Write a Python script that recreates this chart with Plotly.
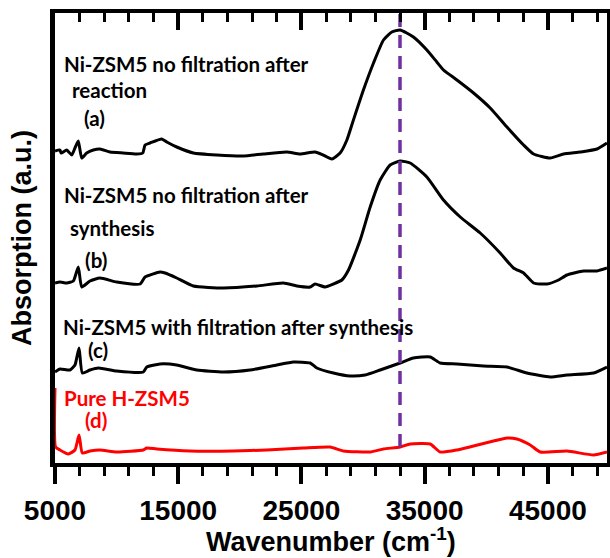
import plotly.graph_objects as go

# Wavenumber (cm-1) and absorption (a.u., stacked offsets)
wn_a = [5000, 5400, 5500, 5950, 6360, 6620, 6890, 7170, 7570, 8110, 8650, 9470, 10520, 11630,
        12120, 12310, 12710, 13660, 14070, 14880, 16230, 18130, 20270, 21890, 23810, 24890,
        26110, 26760, 27470, 28140, 28690, 29220, 30030, 30850, 31660, 32340, 33010, 34090,
        35180, 35990, 36530, 37620, 38970, 40320, 41680, 43030, 43840, 45190, 46270, 47630,
        48990, 49800]
abs_a = [3.12, 3.13, 3.10, 3.13, 3.08, 3.15, 3.22, 3.05, 3.10, 3.13, 3.14, 3.11, 3.10, 3.09,
         3.10, 3.18, 3.20, 3.24, 3.21, 3.16, 3.10, 3.08, 3.07, 3.09, 3.11, 3.09,
         3.11, 3.08, 3.04, 3.10, 3.23, 3.43, 3.73, 4.00, 4.23, 4.31, 4.33, 4.26,
         4.13, 4.01, 3.93, 3.83, 3.70, 3.55, 3.36, 3.18, 3.09, 3.05, 3.09, 3.11,
         3.14, 3.20]

wn_b = [5000, 5400, 5950, 6490, 6890, 7170, 7840, 8650, 10010, 11900, 12310, 13530, 13930,
        14880, 16230, 18670, 21380, 23540, 24630, 25710, 26110, 26920, 27600, 28280, 28820,
        29770, 30580, 31390, 32200, 33010, 33830, 35180, 36530, 37890, 39510, 41130, 42210,
        43030, 43840, 44930, 45870, 46550, 47900, 48990, 49800]
abs_b = [1.80, 1.81, 1.80, 1.82, 1.96, 1.76, 1.82, 1.85, 1.81, 1.79, 1.86, 1.91, 1.90,
         1.85, 1.77, 1.75, 1.77, 1.80, 1.77, 1.76, 1.79, 1.76, 1.79, 1.83, 1.93,
         2.23, 2.56, 2.83, 2.98, 3.02, 3.00, 2.86, 2.63, 2.46, 2.30, 2.10, 1.95,
         1.90, 1.80, 1.79, 1.83, 1.88, 1.92, 1.92, 1.95]

wn_c = [5000, 5400, 6220, 6620, 6950, 7220, 7840, 8520, 10010, 12170, 12450, 13530, 14880,
        16510, 18670, 20830, 23000, 24350, 25710, 26250, 27600, 28950, 30170, 31390, 33010,
        34090, 35450, 36260, 37620, 39780, 41680, 43300, 45190, 46550, 48710, 49800]
abs_c = [0.91, 0.94, 0.93, 0.98, 1.15, 0.90, 0.93, 0.95, 0.92, 0.91, 0.96, 0.99, 0.98,
         0.93, 0.91, 0.93, 0.98, 1.01, 1.00, 0.95, 0.90, 0.87, 0.88, 0.93, 1.00,
         1.05, 1.06, 1.00, 0.99, 0.97, 0.96, 0.90, 0.86, 0.88, 0.90, 0.96]

wn_d = [5000, 5050, 5400, 6080, 6620, 6950, 7220, 7840, 8650, 10010, 12170, 12450, 13260,
        15960, 19480, 22190, 25140, 27330, 28410, 30580, 31660, 33010, 33830, 35450, 36260,
        37620, 38970, 40590, 41680, 42490, 43570, 44380, 46550, 48710, 49800]
abs_d = [0.75, 0.16, 0.13, 0.09, 0.13, 0.28, 0.10, 0.12, 0.13, 0.11, 0.13, 0.15, 0.14,
         0.12, 0.12, 0.13, 0.15, 0.16, 0.12, 0.11, 0.14, 0.16, 0.19, 0.19, 0.11,
         0.13, 0.17, 0.22, 0.25, 0.24, 0.18, 0.11, 0.12, 0.08, 0.11]

marker_wn = 33000
marker_y = [0.16, 4.5]

x_range = [5000, 49800]
y_range = [0, 4.5]
x_ticks = [5000, 15000, 25000, 35000, 45000]

labels = [
    ("<b>Ni-ZSM5 no filtration after</b>", 5570, 3.99, "black"),
    ("<b>reaction</b>", 6220, 3.73, "black"),
    ("<b>(a)</b>", 7190, 3.45, "black"),
    ("<b>Ni-ZSM5 no filtration after</b>", 5570, 2.68, "black"),
    ("<b>synthesis</b>", 6060, 2.35, "black"),
    ("<b>(b)</b>", 7270, 2.03, "black"),
    ("<b>Ni-ZSM5 with filtration after synthesis</b>", 5490, 1.36, "black"),
    ("<b>(c)</b>", 7520, 1.13, "black"),
    ("<b>Pure H-ZSM5</b>", 5570, 0.65, "#FF0000"),
    ("<b>(d)</b>", 7270, 0.43, "#FF0000"),
]

fig = go.Figure()
for wn, ab, col in [(wn_a, abs_a, "black"), (wn_b, abs_b, "black"),
                    (wn_c, abs_c, "black"), (wn_d, abs_d, "#FF0000")]:
    fig.add_trace(go.Scatter(x=wn, y=ab, mode="lines",
                             line=dict(color=col, width=3, shape="spline", smoothing=0.5),
                             showlegend=False))

fig.add_trace(go.Scatter(x=[marker_wn, marker_wn], y=marker_y, mode="lines",
                         line=dict(color="#7030A0", width=3.5, dash="13px,8px"),
                         showlegend=False))

# helper trace for the mirrored (top / right) frame axes
fig.add_trace(go.Scatter(x=[None], y=[None], xaxis="x2", yaxis="y2",
                         showlegend=False, hoverinfo="skip"))

for txt, x, y, col in labels:
    fig.add_annotation(text=txt, x=x, y=y, xref="x", yref="y", xanchor="left",
                       yanchor="middle", showarrow=False,
                       font=dict(family="Lato", size=20.5, color=col))

axis_font = dict(family="Liberation Sans", size=27, color="black")

# x-axis title placed as paper annotation below the tick labels
fig.add_annotation(text="<b>Wavenumber (cm<sup>-1</sup>)</b>", xref="paper", yref="paper",
                   x=0.5, y=-0.172, xanchor="center", yanchor="middle",
                   showarrow=False, font=axis_font)

fig.update_layout(
    width=610, height=558,
    margin=dict(l=55, r=3, t=13, b=95),
    plot_bgcolor="white", paper_bgcolor="white",
    xaxis=dict(range=x_range, tickvals=x_ticks, ticktext=[str(v) for v in x_ticks],
               ticks="outside", ticklen=17, tickwidth=4, tickcolor="black",
               ticklabelstandoff=3,
               minor=dict(dtick=2000, tick0=5000, ticks="outside", ticklen=9,
                          tickwidth=3, tickcolor="black"),
               showline=True, linewidth=3.5, linecolor="black", mirror=False,
               showgrid=False, zeroline=False,
               tickfont=dict(family="Liberation Sans", size=28, color="black", weight="bold")),
    xaxis2=dict(range=x_range, overlaying="x", side="top", anchor="y2",
                tickvals=x_ticks, showticklabels=False,
                ticks="inside", ticklen=17, tickwidth=4, tickcolor="black",
                minor=dict(dtick=2000, tick0=5000, ticks="inside", ticklen=9,
                           tickwidth=3, tickcolor="black"),
                showline=True, linewidth=3.5, linecolor="black",
                showgrid=False, zeroline=False),
    yaxis=dict(range=y_range, showticklabels=False, ticks="",
               showline=True, linewidth=5, linecolor="black", mirror=False,
               showgrid=False, zeroline=False,
               title=dict(text="<b>Absorption (a.u.)</b>", font=axis_font, standoff=12)),
    yaxis2=dict(range=y_range, overlaying="y", side="right", anchor="x2",
                showticklabels=False, ticks="",
                showline=True, linewidth=3.5, linecolor="black",
                showgrid=False, zeroline=False),
)

fig.write_html("out.html")
